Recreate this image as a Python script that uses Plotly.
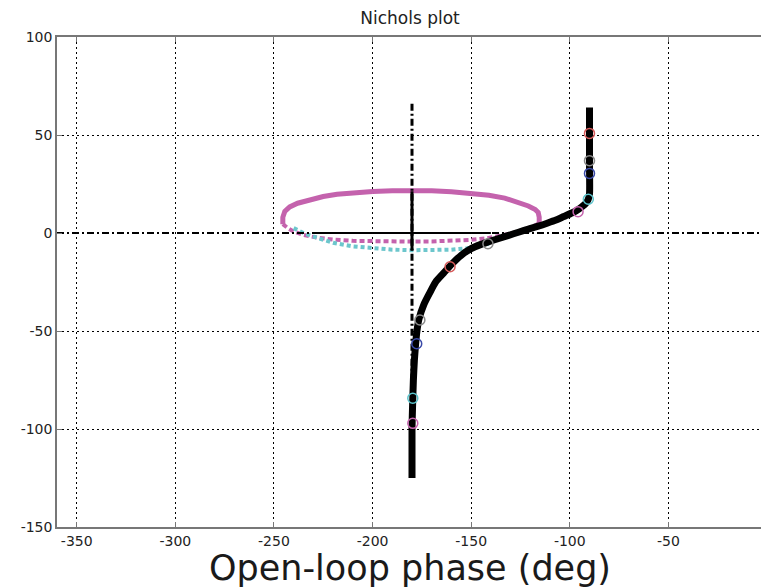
import plotly.graph_objects as go

# ---------------- data ----------------
# main open-loop Nichols curve (phase deg, gain dB)
main_phase = [-90, -90, -90, -90, -90.7, -92, -94, -96.5, -99, -103, -107, -111.5, -116,
              -121, -126, -131, -136, -141, -145, -150, -155, -160, -164, -168, -171,
              -174, -176.5, -177.5, -178.2, -178.8, -179.3, -179.7, -180, -180]
main_gain = [64, 50, 35, 20, 17, 15, 13.3, 11.5, 10.2, 8.4, 6.6, 5, 3.5,
             2, 0.4, -1.2, -2.8, -4.4, -5.8, -8, -11.3, -16, -20.5, -25, -30.5,
             -36.5, -44, -50, -57, -65, -75, -88, -100, -125]

# magenta closed-loop contour, upper (solid) part
mag_up_phase = [-245.5, -245.5, -244.5, -242, -238, -232, -225, -218, -210, -200, -190, -180,
                -170, -160, -150, -141, -133, -126, -121, -117.5, -116, -115.5, -115.5]
mag_up_gain = [4.5, 8, 11, 13.3, 15.2, 17, 18.6, 19.8, 20.6, 21.2, 21.5, 21.6,
               21.5, 21.1, 20.4, 19.3, 17.8, 15.8, 13.8, 12, 10.5, 8, 5]

# magenta contour, lower (dashed) part
mag_lo_phase = [-245.5, -243, -240, -235, -228, -220, -210, -200, -190, -180, -170, -160,
                -150, -142, -136, -130, -124, -119, -115.5]
mag_lo_gain = [4.5, 2.5, 0.8, -1, -2.4, -3.4, -4, -4.3, -4.4, -4.4, -4.3, -4,
               -3.5, -2.7, -1.7, -0.3, 1.5, 3.2, 5]

# cyan contour (dotted)
cyan_phase = [-240, -235, -228, -220, -210, -200, -190, -180, -170, -160, -152, -146, -141]
cyan_gain = [2.5, 0, -2.5, -5, -6.8, -7.8, -8.5, -8.8, -8.8, -8.5, -7.8, -6.8, -5.5]

# frequency markers (open circles)
red_phase, red_gain = [-90, -160.7], [50.8, -17.2]
gray_phase, gray_gain = [-90, -176, -141.5], [36.9, -44.4, -5.5]
blue_phase, blue_gain = [-90, -177.6], [30.4, -56.5]
cyanm_phase, cyanm_gain = [-90.6, -179.6], [17.2, -84.3]
magm_phase, magm_gain = [-95.8, -179.6], [10.9, -97.1]

# reference (-180 deg, 0 dB) lines
crit_phase = -180
vline_gain = [66, -125]
hline_phase = [-360, 0]
cross_h_phase = [-230, -140]
cross_v_gain = [21.3, -8.8]

# axes
x_ticks = [-350, -300, -250, -200, -150, -100, -50, 0]
x_ticktext = ["-350", "-300", "-250", "-200", "-150", "-100", "-50", "0"]
y_ticks = [-150, -100, -50, 0, 50, 100]
y_ticktext = ["-150", "-100", "-50", "0", "50", "100"]
x_range = [-360, 0]
y_range = [-150, 100]

title_text = "Nichols plot"
xlabel_text = "Open-loop phase (deg)"

# ---------------- styles ----------------
MAG = "#c462ad"
CYAN = "#6cc6cc"
FONT = "DejaVu Sans"

fig = go.Figure()

fig.add_trace(go.Scatter(x=mag_lo_phase, y=mag_lo_gain, mode="lines",
                         line=dict(color=MAG, width=4, dash="5px,3px"), hoverinfo="skip"))
fig.add_trace(go.Scatter(x=cyan_phase, y=cyan_gain, mode="lines",
                         line=dict(color=CYAN, width=4, dash="4px,3px"), hoverinfo="skip"))
fig.add_trace(go.Scatter(x=mag_up_phase, y=mag_up_gain, mode="lines",
                         line=dict(color=MAG, width=5), hoverinfo="skip"))

# dash-dot reference lines
fig.add_trace(go.Scatter(x=hline_phase, y=[0, 0], mode="lines",
                         line=dict(color="black", width=2, dash="7px,3px,2px,3px"), hoverinfo="skip"))
fig.add_trace(go.Scatter(x=[crit_phase, crit_phase], y=vline_gain, mode="lines",
                         line=dict(color="black", width=3, dash="7px,3px,2px,3px"), hoverinfo="skip"))
# solid cross inside the contour
fig.add_trace(go.Scatter(x=cross_h_phase, y=[0, 0], mode="lines",
                         line=dict(color="black", width=2), hoverinfo="skip"))
fig.add_trace(go.Scatter(x=[crit_phase, crit_phase], y=cross_v_gain, mode="lines",
                         line=dict(color="black", width=3), hoverinfo="skip"))

# main curve
fig.add_trace(go.Scatter(x=main_phase, y=main_gain, mode="lines",
                         line=dict(color="black", width=7, shape="spline", smoothing=0.6),
                         hoverinfo="skip"))

for px, py, col in [(red_phase, red_gain, "#d65a5a"),
                    (gray_phase, gray_gain, "#8a8a8a"),
                    (blue_phase, blue_gain, "#3a4aa8"),
                    (cyanm_phase, cyanm_gain, "#5cc4cc"),
                    (magm_phase, magm_gain, "#c462ad")]:
    fig.add_trace(go.Scatter(x=px, y=py, mode="markers",
                             marker=dict(symbol="circle-open", size=10, color=col,
                                         line=dict(width=1.5, color=col)),
                             hoverinfo="skip"))

axis_common = dict(
    automargin=False,
    showgrid=True, gridcolor="black", gridwidth=1, griddash="2px,3px",
    zeroline=False, showline=True, linecolor="#777777", linewidth=1.5,
    mirror="ticks", ticks="inside", ticklen=5, tickcolor="#777777", tickwidth=1,
    tickfont=dict(family=FONT, size=14, color="#222222"),
)

# the page body adds an 8px offset; margins compensate so the plot box lands at
# x 57..767, y 37..527 in the 769x587 window
fig.update_layout(
    width=769, height=587, autosize=False,
    margin=dict(l=49, r=10, t=29, b=68, autoexpand=False),
    paper_bgcolor="white", plot_bgcolor="white",
    showlegend=False,
    title=dict(text=title_text, x=402 / 769, xanchor="center", y=1 - 10 / 587, yanchor="middle",
               yref="container", font=dict(family=FONT, size=17, color="#222222")),
    xaxis=dict(range=x_range, tickmode="array", tickvals=x_ticks, ticktext=x_ticktext,
               **axis_common),
    yaxis=dict(range=y_range, tickmode="array", tickvals=y_ticks, ticktext=y_ticktext,
               **axis_common),
    annotations=[dict(text=xlabel_text, x=0.497, xref="paper", y=-41 / 490, yref="paper",
                      xanchor="center", yanchor="middle", showarrow=False,
                      font=dict(family=FONT, size=35, color="#1a1a1a"))],
)

fig.write_html("out.html")
